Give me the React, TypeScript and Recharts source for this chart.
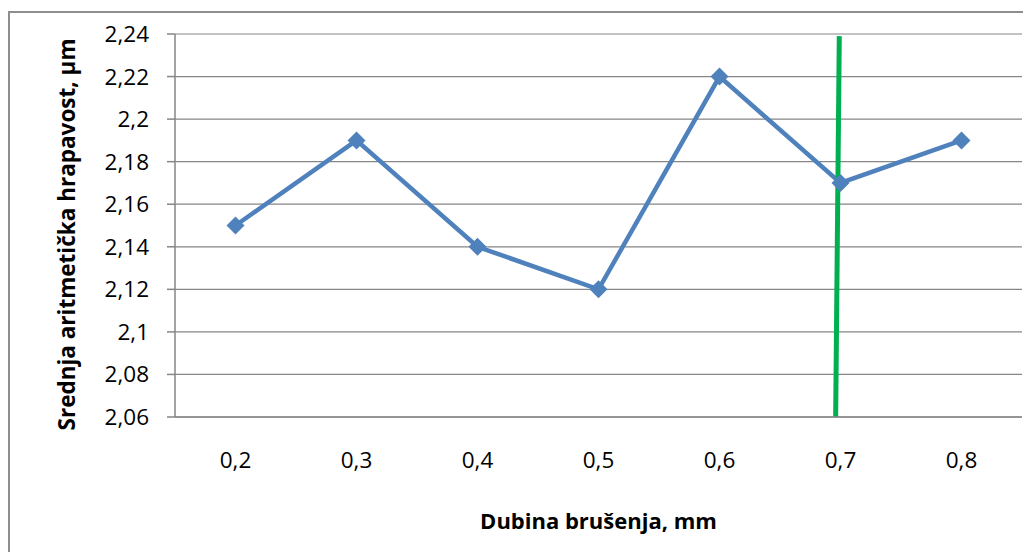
import { CartesianGrid, Line, LineChart, ReferenceLine, XAxis, YAxis } from 'recharts';

// grinding depth (mm) and mean arithmetic roughness Ra (µm)
const depths = [0.2, 0.3, 0.4, 0.5, 0.6, 0.7, 0.8];
const roughness = [2.15, 2.19, 2.14, 2.12, 2.22, 2.17, 2.19];
const yTicks = [2.06, 2.08, 2.1, 2.12, 2.14, 2.16, 2.18, 2.2, 2.22, 2.24];
const markerLine = [
  { x: 0.699, y: 2.239 },
  { x: 0.696, y: 2.06 },
];

const xTitle = 'Dubina brušenja, mm';
const yTitle = 'Srednja aritmetička hrapavost, µm';

const data = depths.map((x, i) => ({ x, ra: roughness[i] }));

const font = "'Open Sans', sans-serif";
const axisGray = '#868686';
const blue = '#4F81BD';

const comma = (v: number) => String(v).replace('.', ',');

function Diamond(props: { cx?: number; cy?: number; index?: number }) {
  const { cx, cy } = props;
  if (cx == null || cy == null) return null;
  const r = 9;
  return (
    <polygon
      key={`d-${props.index}`}
      points={`${cx},${cy - r} ${cx + r},${cy} ${cx},${cy + r} ${cx - r},${cy}`}
      fill={blue}
    />
  );
}

export default function App() {
  return (
    <div
      style={{
        position: 'relative',
        width: 1015,
        height: 552,
        marginBottom: -8,
        overflow: 'hidden',
        fontFamily: font,
      }}
    >
      <div
        style={{
          position: 'absolute',
          left: 0,
          top: 3,
          width: 1200,
          height: 700,
          border: '2px solid #8e8e8e',
        }}
      />
      <div style={{ position: 'absolute', left: 0, top: 0 }}>
        <LineChart width={1023} height={544} data={data} margin={{ top: 26, right: 9, left: 0, bottom: 0 }}>
          <CartesianGrid vertical={false} stroke={axisGray} strokeWidth={1.2} />
          <XAxis
            type="number"
            dataKey="x"
            domain={[0.15, 0.85]}
            ticks={depths}
            tickFormatter={comma}
            height={135}
            tickLine={false}
            tickSize={0}
            tickMargin={35}
            axisLine={{ stroke: axisGray, strokeWidth: 1.5 }}
            tick={{ fill: '#000', fontSize: 22.5, fontFamily: font }}
            label={{
              value: xTitle,
              position: 'insideBottom',
              offset: 23,
              style: { fontWeight: 700, fontSize: 22, fill: '#000', fontFamily: font },
            }}
          />
          <YAxis
            domain={[2.06, 2.24]}
            ticks={yTicks}
            tickFormatter={comma}
            width={167}
            tickSize={8}
            tickMargin={18}
            axisLine={{ stroke: axisGray, strokeWidth: 1.5 }}
            tickLine={{ stroke: axisGray, strokeWidth: 1.5 }}
            tick={{ fill: '#000', fontSize: 22.5, fontFamily: font }}
            label={{
              value: yTitle,
              angle: -90,
              position: 'insideLeft',
              offset: 59,
              dy: 9,
              style: { fontWeight: 700, fontSize: 22.5, fill: '#000', fontFamily: font, textAnchor: 'middle' },
            }}
          />
          <Line
            dataKey="ra"
            stroke={blue}
            strokeWidth={4.5}
            dot={(p: any) => <Diamond {...p} />}
            activeDot={false}
            isAnimationActive={false}
          />
          <ReferenceLine segment={markerLine} stroke="#00B050" strokeWidth={5} ifOverflow="extendDomain" />
        </LineChart>
      </div>
    </div>
  );
}
